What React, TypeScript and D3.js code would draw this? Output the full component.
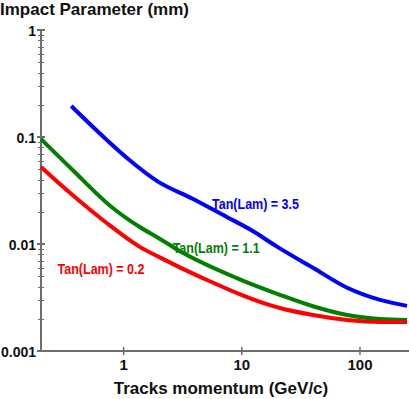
import React, { useEffect, useRef } from 'react';
import * as d3 from 'd3';

// values (momentum in GeV/c, impact parameter in mm)
const momentumBlue = [0.36, 0.72, 1.12, 1.94, 3.84, 7.46, 12, 20, 40, 78, 148, 250];
const impactBlue = [0.195, 0.094, 0.061, 0.0385, 0.0265, 0.0179, 0.0135, 0.0094, 0.006, 0.0039, 0.003, 0.00264];

const momentumGreen = [0.2, 0.37, 0.81, 1.37, 2.02, 2.98, 9.07, 21, 40, 78, 148, 250];
const impactGreen = [0.0958, 0.0492, 0.0217, 0.0144, 0.0112, 0.0086, 0.0048, 0.00335, 0.00262, 0.00217, 0.00199, 0.00195];

const momentumRed = [0.2, 0.33, 0.5, 0.72, 1.37, 2.02, 4.67, 21, 40, 78, 148, 250];
const impactRed = [0.0525, 0.032, 0.0217, 0.0157, 0.0094, 0.0075, 0.0048, 0.00252, 0.00217, 0.00195, 0.00187, 0.00187];

const seriesLabels = ['Tan(Lam) = 3.5', 'Tan(Lam) = 1.1', 'Tan(Lam) = 0.2'];
const seriesColors = ['#0000ff', '#008000', '#ff0000'];
// label anchor positions in data units [momentum, impact]
const labelAt = [[5.6, 0.0212], [2.6, 0.0083], [0.276, 0.0052]];

const yMajor = [1, 0.1, 0.01, 0.001];
const yMajorText = ['1', '0.1', '0.01', '0.001'];
const xMajor = [1, 10, 100];
const xMajorText = ['1', '10', '100'];

const ImpactChart = () => {
    const svgRef = useRef<SVGSVGElement>(null);

    useEffect(() => {
        const width = 409;
        const height = 399;
        const left = 41;
        const right = 407;
        const top = 30;
        const bottom = 351;
        const font = '"Liberation Sans", Arial, sans-serif';

        const svg = d3.select(svgRef.current).attr('width', width).attr('height', height);
        svg.selectAll('*').remove();

        const x = d3.scaleLog().domain([0.2, 250]).range([left, right]);
        const y = d3.scaleLog().domain([0.001, 1]).range([bottom, top]);

        const axisColor = '#6e6e6e';

        // y axis
        svg.append('line')
            .attr('x1', left).attr('x2', left)
            .attr('y1', top).attr('y2', bottom)
            .attr('stroke', axisColor).attr('stroke-width', 2);

        const yMinor: number[] = [];
        for (let e = -3; e < 0; e++) {
            for (let m = 2; m <= 9; m++) yMinor.push(m * Math.pow(10, e));
        }
        svg.append('g').selectAll('line')
            .data(yMinor)
            .enter().append('line')
            .attr('x1', left - 3).attr('x2', left + 3)
            .attr('y1', d => Math.round(y(d)) + 0.5).attr('y2', d => Math.round(y(d)) + 0.5)
            .attr('stroke', axisColor).attr('stroke-width', 1);

        svg.append('g').selectAll('line')
            .data(yMajor)
            .enter().append('line')
            .attr('x1', left - 4).attr('x2', left + 4)
            .attr('y1', d => y(d)).attr('y2', d => y(d))
            .attr('stroke', axisColor).attr('stroke-width', 2);

        svg.append('g').selectAll('text')
            .data(yMajor)
            .enter().append('text')
            .attr('x', 36)
            .attr('y', d => y(d) + 5.5)
            .attr('text-anchor', 'end')
            .attr('font-family', font).attr('font-weight', 'bold').attr('font-size', 14)
            .attr('fill', '#111')
            .text((d, i) => yMajorText[i]);

        // x axis
        svg.append('line')
            .attr('x1', left).attr('x2', width)
            .attr('y1', bottom).attr('y2', bottom)
            .attr('stroke', axisColor).attr('stroke-width', 2);

        svg.append('g').selectAll('line')
            .data(xMajor)
            .enter().append('line')
            .attr('x1', d => x(d)).attr('x2', d => x(d))
            .attr('y1', bottom - 4).attr('y2', bottom + 4)
            .attr('stroke', axisColor).attr('stroke-width', 1.5);

        svg.append('g').selectAll('text')
            .data(xMajor)
            .enter().append('text')
            .attr('x', d => x(d))
            .attr('y', bottom + 19)
            .attr('text-anchor', 'middle')
            .attr('font-family', font).attr('font-weight', 'bold').attr('font-size', 15)
            .attr('fill', '#111')
            .text((d, i) => xMajorText[i]);

        // titles
        svg.append('text')
            .attr('x', 0).attr('y', 15)
            .attr('font-family', font).attr('font-weight', 'bold').attr('font-size', 17)
            .attr('fill', '#111')
            .text('Impact Parameter (mm)');

        svg.append('text')
            .attr('x', 221).attr('y', 394)
            .attr('text-anchor', 'middle')
            .attr('font-family', font).attr('font-weight', 'bold').attr('font-size', 17)
            .attr('fill', '#111')
            .text('Tracks momentum (GeV/c)');

        // curves
        const series = [
            momentumBlue.map((p, i) => [p, impactBlue[i]]),
            momentumGreen.map((p, i) => [p, impactGreen[i]]),
            momentumRed.map((p, i) => [p, impactRed[i]]),
        ];

        const line = d3.line<number[]>()
            .x(d => x(d[0]))
            .y(d => y(d[1]))
            .curve(d3.curveMonotoneX);

        svg.append('g').selectAll('path')
            .data(series)
            .enter().append('path')
            .attr('d', d => line(d))
            .attr('fill', 'none')
            .attr('stroke', (d, i) => seriesColors[i])
            .attr('stroke-width', 4);

        svg.append('g').selectAll('text')
            .data(seriesLabels)
            .enter().append('text')
            .attr('x', (d, i) => x(labelAt[i][0]))
            .attr('y', (d, i) => y(labelAt[i][1]))
            .attr('font-family', font).attr('font-weight', 'bold').attr('font-size', 14)
            .attr('textLength', 87).attr('lengthAdjust', 'spacingAndGlyphs')
            .attr('fill', (d, i) => seriesColors[i])
            .text(d => d);
    }, []);

    return <svg ref={svgRef} style={{ position: 'absolute', left: 0, top: 0 }}></svg>;
};

export default function App() {
    return <ImpactChart />;
}
